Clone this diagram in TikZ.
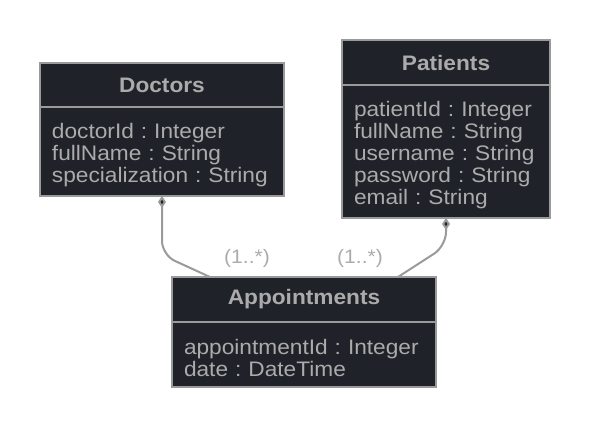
\documentclass[tikz,border=0pt]{standalone}
\usepackage{fontspec}
\setmainfont[FakeStretch=1.08]{Liberation Sans}
\usetikzlibrary{positioning,arrows.meta}
\definecolor{boxfill}{HTML}{1F2229}
\definecolor{boxline}{HTML}{9A9A9A}
\definecolor{boxtext}{HTML}{ABABAB}
\frenchspacing

\begin{document}
\begin{tikzpicture}[x=1pt,y=-1pt,
    head/.style={rectangle,draw=boxline,fill=boxfill,line width=2pt,outer sep=0pt,
      text=boxtext,font=\fontsize{21}{22}\selectfont\bfseries,inner sep=0pt,anchor=north west},
    attrs/.style={rectangle,draw=boxline,fill=boxfill,line width=2pt,outer sep=0pt,
      text=boxtext,font=\fontsize{21}{22}\selectfont,align=left,inner xsep=12pt,inner ysep=0pt,
      execute at begin node={\rule{0pt}{23pt}}},
    link/.style={draw=boxline,line width=2pt,rounded corners=14pt},
    tip/.style={{Diamond[length=12pt,width=8pt,fill=boxfill]}-},
    mult/.style={text=boxtext,font=\fontsize{19.5}{20}\selectfont}
    ]
    \useasboundingbox (0,0) rectangle (590,430);

    % classes
    \node (doc) [head,minimum width=244pt,minimum height=44pt] at (40,63) {Doctors};
    \node (docattr) [attrs,below=0pt of doc,text width=220pt,minimum height=89pt]
      {doctorId : Integer\\fullName : String\\specialization : String};

    \node (pat) [head,minimum width=208pt,minimum height=45pt] at (342,40) {Patients};
    \node (patattr) [attrs,below=0pt of pat,text width=184pt,minimum height=133pt]
      {patientId : Integer\\fullName : String\\username : String\\password : String\\email : String};

    \node (appt) [head,minimum width=264pt,minimum height=45pt] at (172,277) {Appointments};
    \node (apptattr) [attrs,below=0pt of appt,text width=240pt,minimum height=65pt]
      {appointmentId : Integer\\date : DateTime};

    % links
    \coordinate (dbend) at (162,255);
    \coordinate (pbend) at (446,246);
    \draw[link,tip] (docattr.south) -- (dbend) -- ([xshift=-94pt]appt.north);
    \draw[link,tip] (patattr.south) -- (pbend) -- ([xshift=94pt]appt.north);

    \node (dmult) [mult] at (247,258) {(1..*)};
    \node (pmult) [mult] at (360,258) {(1..*)};
\end{tikzpicture}
\end{document}
